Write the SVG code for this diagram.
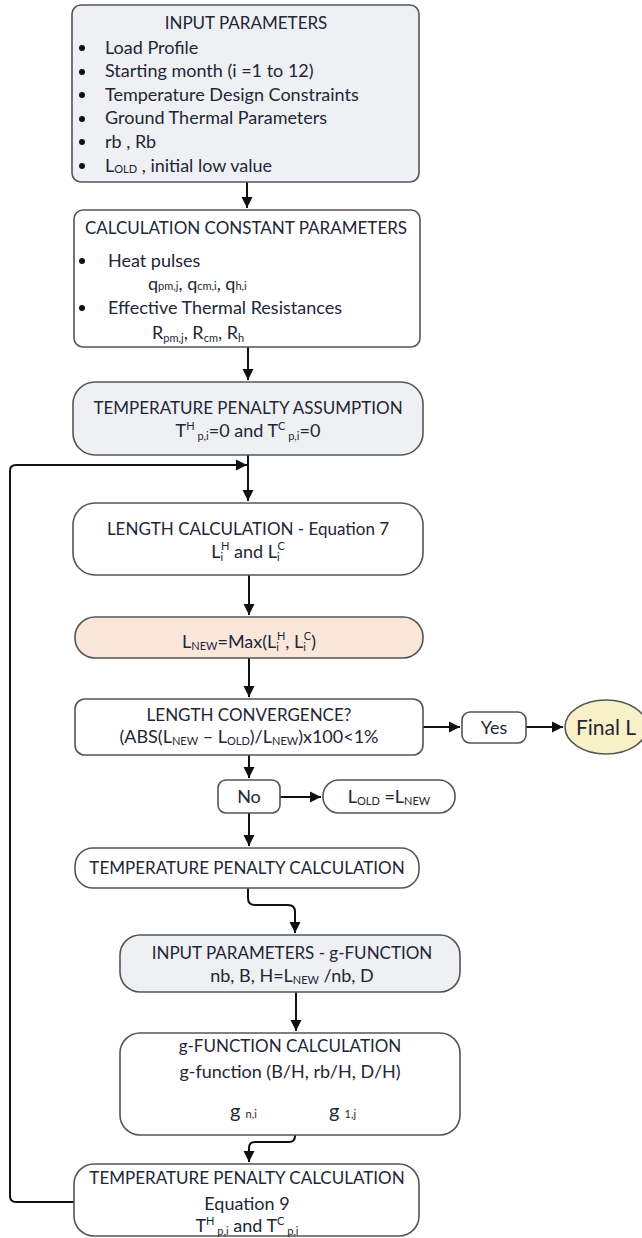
<svg xmlns="http://www.w3.org/2000/svg" width="642" height="1238" viewBox="0 0 642 1238">
<defs>
<marker id="ah" markerUnits="userSpaceOnUse" markerWidth="12" markerHeight="12" refX="11" refY="6" orient="auto">
<path d="M0,0.5 L11,6 L0,11.5 z" fill="#111"/>
</marker>
<style>
.box{stroke:#555;stroke-width:1.6}
.gray{fill:#eef0f3}
.white{fill:#fff}
.peach{fill:#fbe7da}
.yellow{fill:#f8f1c8}
text{font-family:Lato,"Open Sans","Liberation Sans",sans-serif;font-size:18px;fill:#222636}
.c{text-anchor:middle}
.t{font-size:17px}
.s{font-size:11px}
.conn{fill:none;stroke:#111;stroke-width:2}
</style>
</defs>
<rect width="642" height="1238" fill="#fff"/>

<g id="connectors">
<path class="conn" d="M247,182 V208" marker-end="url(#ah)"/>
<path class="conn" d="M248,347 V380" marker-end="url(#ah)"/>
<path class="conn" d="M248,455 V501" marker-end="url(#ah)"/>
<path class="conn" d="M74,1202 H16 Q10,1202 10,1196 V471 Q10,465 16,465 H247" marker-end="url(#ah)"/>
<path class="conn" d="M249,575 V615" marker-end="url(#ah)"/>
<path class="conn" d="M249,658 V697" marker-end="url(#ah)"/>
<path class="conn" d="M423,727 H460" marker-end="url(#ah)"/>
<path class="conn" d="M526,727 H563" marker-end="url(#ah)"/>
<path class="conn" d="M249,755 V778" marker-end="url(#ah)"/>
<path class="conn" d="M280,797 H321" marker-end="url(#ah)"/>
<path class="conn" d="M249,813 V846" marker-end="url(#ah)"/>
<path class="conn" d="M248,888 V898 Q248,905 255,905 H288 Q295,905 295,912 V933" marker-end="url(#ah)"/>
<path class="conn" d="M296,992 V1031" marker-end="url(#ah)"/>
<path class="conn" d="M295,1135 V1136 Q295,1142 289,1142 H255 Q249,1142 249,1148 V1162" marker-end="url(#ah)"/>
</g>

<g id="input-parameters">
<rect class="box gray" x="72" y="5" width="347" height="177" rx="9"/>
<text class="c t" x="246" y="29">INPUT PARAMETERS</text>
<g fill="#111"><circle cx="82" cy="48" r="3"/><circle cx="82" cy="72" r="3"/><circle cx="82" cy="95" r="3"/><circle cx="82" cy="119" r="3"/><circle cx="82" cy="142" r="3"/><circle cx="82" cy="166" r="3"/></g>
<text x="105" y="54">Load Profile</text>
<text x="105" y="77">Starting month (i =1 to 12)</text>
<text x="105" y="101">Temperature Design Constraints</text>
<text x="105" y="124">Ground Thermal Parameters</text>
<text x="105" y="148">rb , Rb</text>
<text x="105" y="172">L<tspan class="s" dy="1">OLD</tspan><tspan dy="-1"> ,  initial low value</tspan></text>
</g>

<g id="calc-constant">
<rect class="box white" x="74" y="210" width="346" height="137" rx="9"/>
<text class="c t" x="246" y="234">CALCULATION CONSTANT PARAMETERS</text>
<g fill="#111"><circle cx="82" cy="261" r="3"/><circle cx="82" cy="308" r="3"/></g>
<text x="108" y="267">Heat pulses</text>
<text x="148" y="290">q<tspan class="s">pm,j</tspan>, q<tspan class="s">cm,i</tspan>, q<tspan class="s">h,i</tspan></text>
<text x="108" y="314">Effective Thermal Resistances</text>
<text x="152" y="339">R<tspan class="s" dy="3">pm,j</tspan><tspan dy="-3">, R</tspan><tspan class="s" dy="3">cm</tspan><tspan dy="-3">, R</tspan><tspan class="s" dy="3">h</tspan></text>
</g>

<g id="temp-penalty-assumption">
<rect class="box gray" x="73" y="382" width="350" height="73" rx="22"/>
<text class="c t" x="248" y="414">TEMPERATURE PENALTY ASSUMPTION</text>
<text class="c" x="248" y="437">T<tspan class="s" dy="-7">H</tspan><tspan class="s" dy="10"> p,i</tspan><tspan dy="-3">=0 and T</tspan><tspan class="s" dy="-7">C</tspan><tspan class="s" dy="10"> p,i</tspan><tspan dy="-3">=0</tspan></text>
</g>

<g id="length-calculation">
<rect class="box white" x="73" y="503" width="350" height="72" rx="22"/>
<text class="c t" x="248" y="535">LENGTH CALCULATION - Equation 7</text>
<text class="c" x="248" y="558">L<tspan class="s" dy="3">i</tspan><tspan class="s" dx="-2" dy="-11">H</tspan><tspan dy="8"> and  L</tspan><tspan class="s" dy="3">i</tspan><tspan class="s" dx="-2" dy="-11">C</tspan></text>
</g>

<g id="l-new">
<rect class="box peach" x="75" y="617" width="348" height="41" rx="20"/>
<text class="c" x="249" y="648">L<tspan class="s" dy="2">NEW</tspan><tspan dy="-2">=Max(L</tspan><tspan class="s" dy="3">i</tspan><tspan class="s" dx="-2" dy="-11">H</tspan><tspan dy="8">, L</tspan><tspan class="s" dy="3">i</tspan><tspan class="s" dx="-2" dy="-11">C</tspan><tspan dy="8">)</tspan></text>
</g>

<g id="length-convergence">
<rect class="box white" x="75" y="699" width="348" height="56" rx="10"/>
<text class="c t" x="249" y="721">LENGTH CONVERGENCE?</text>
<text class="c" x="249" y="743">(ABS(L<tspan class="s" dy="2">NEW</tspan><tspan dy="-2"> – L</tspan><tspan class="s" dy="2">OLD</tspan><tspan dy="-2">)/L</tspan><tspan class="s" dy="2">NEW</tspan><tspan dy="-2">)x100&lt;1%</tspan></text>
</g>

<g id="yes">
<rect class="box white" x="462" y="712" width="64" height="31" rx="8"/>
<text class="c" x="494" y="734">Yes</text>
</g>

<g id="final-l">
<ellipse class="box yellow" cx="606" cy="727" rx="41" ry="27"/>
<text class="c" x="606" y="735" style="font-size:21px">Final L</text>
</g>

<g id="no">
<rect class="box white" x="218" y="780" width="62" height="33" rx="8"/>
<text class="c" x="249" y="803">No</text>
</g>

<g id="l-old">
<rect class="box white" x="323" y="780" width="132" height="33" rx="16"/>
<text class="c" x="389" y="803">L<tspan class="s" dy="2">OLD</tspan><tspan dy="-2"> =L</tspan><tspan class="s" dy="2">NEW</tspan></text>
</g>

<g id="temp-penalty-calc">
<rect class="box white" x="75" y="848" width="344" height="40" rx="18"/>
<text class="c t" x="247" y="874">TEMPERATURE PENALTY CALCULATION</text>
</g>

<g id="input-g-function">
<rect class="box gray" x="120" y="935" width="340" height="57" rx="20"/>
<text class="c t" x="292" y="959">INPUT PARAMETERS  - g-FUNCTION</text>
<text class="c" x="292" y="982">nb, B, H=L<tspan class="s" dy="2">NEW</tspan><tspan dy="-2"> /nb, D</tspan></text>
</g>

<g id="g-function-calc">
<rect class="box white" x="120" y="1033" width="340" height="102" rx="20"/>
<text class="c t" x="290" y="1052">g-FUNCTION CALCULATION</text>
<text class="c" x="290" y="1078">g-function (B/H, rb/H, D/H)</text>
<text x="230" y="1118" style="font-size:20px">g <tspan class="s">n,i</tspan></text>
<text x="329" y="1118" style="font-size:20px">g <tspan class="s">1,j</tspan></text>
</g>

<g id="temp-penalty-eq9">
<rect class="box white" x="74" y="1164" width="345" height="72" rx="20"/>
<text class="c t" x="247" y="1184">TEMPERATURE PENALTY CALCULATION</text>
<text class="c" x="247" y="1210">Equation 9</text>
<text class="c" x="247" y="1232">T<tspan class="s" dy="-7">H</tspan><tspan class="s" dy="10"> p,i</tspan><tspan dy="-3"> and T</tspan><tspan class="s" dy="-7">C</tspan><tspan class="s" dy="10"> p,i</tspan></text>
</g>
</svg>
